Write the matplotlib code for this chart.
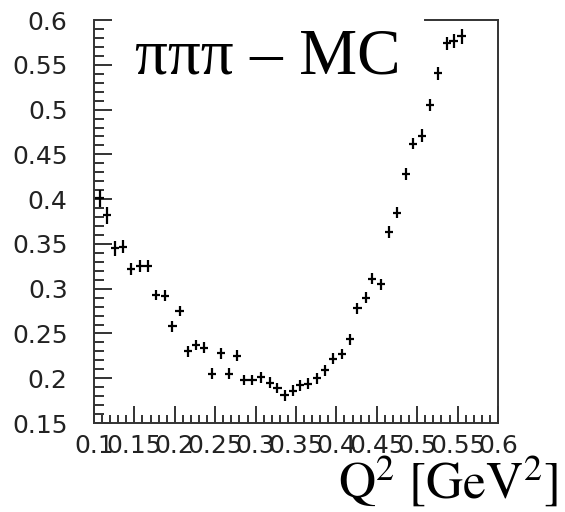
import numpy as np
import matplotlib.pyplot as plt
from matplotlib.ticker import MultipleLocator

# Q^2 bins and the MC points
q2 = [0.107, 0.116, 0.126, 0.136, 0.146, 0.157, 0.167, 0.177, 0.188, 0.197,
      0.206, 0.216, 0.226, 0.236, 0.246, 0.257, 0.267, 0.277, 0.286, 0.296,
      0.307, 0.318, 0.327, 0.336, 0.346, 0.355, 0.365, 0.376, 0.386, 0.396,
      0.407, 0.417, 0.426, 0.437, 0.444, 0.455, 0.465, 0.475, 0.486, 0.495,
      0.506, 0.516, 0.526, 0.537, 0.545, 0.555]
val = [0.401, 0.382, 0.345, 0.347, 0.322, 0.325, 0.325, 0.293, 0.292, 0.258,
       0.275, 0.230, 0.237, 0.234, 0.205, 0.228, 0.205, 0.225, 0.198, 0.198,
       0.201, 0.195, 0.189, 0.181, 0.186, 0.192, 0.194, 0.200, 0.209, 0.222,
       0.227, 0.2435, 0.278, 0.290, 0.311, 0.305, 0.363, 0.385, 0.428, 0.462,
       0.471, 0.505, 0.5405, 0.574, 0.577, 0.582]
err = [0.0095, 0.0095, 0.0085, 0.0075, 0.007, 0.0065, 0.0065, 0.006, 0.006, 0.006,
       0.006, 0.006, 0.006, 0.006, 0.006, 0.006, 0.006, 0.006, 0.006, 0.006,
       0.006, 0.006, 0.006, 0.006, 0.006, 0.006, 0.006, 0.006, 0.006, 0.006,
       0.006, 0.006, 0.006, 0.006, 0.006, 0.006, 0.0065, 0.0065, 0.0065, 0.0065,
       0.007, 0.007, 0.0075, 0.0075, 0.008, 0.0085]
half_bin = 0.0052

xticks = np.arange(0.1, 0.601, 0.05)
yticks = np.arange(0.15, 0.601, 0.05)

fig = plt.figure(figsize=(5.65, 5.12), dpi=100)
ax = fig.add_axes([0.1664, 0.1738, 0.715, 0.787])

ax.errorbar(q2, val, xerr=half_bin, yerr=err, fmt='none',
            ecolor='black', elinewidth=1.6, capsize=0)

ax.set_xlim(0.1, 0.6)
ax.set_ylim(0.15, 0.6)
ax.set_xticks(xticks)
ax.set_yticks(yticks)
ax.set_xticklabels([f"{t:g}" for t in xticks])
ax.set_yticklabels([f"{t:g}" for t in yticks])
ax.xaxis.set_minor_locator(MultipleLocator(0.01))
ax.yaxis.set_minor_locator(MultipleLocator(0.01))

ax.tick_params(which='both', direction='in', width=1.4, color='#333333',
               top=False, right=False, labelsize=18, labelcolor='#222222')
ax.tick_params(axis='y', which='major', length=13, pad=19)
ax.tick_params(axis='y', which='minor', length=7)
ax.tick_params(axis='x', which='major', length=12.5, pad=8)
ax.tick_params(axis='x', which='minor', length=6)

for s in ax.spines.values():
    s.set_linewidth(1.4)
    s.set_color('#333333')
# the title box hides most of the top frame
ax.spines['top'].set_bounds(0.51, 0.6)

fig.text(0.239, 0.857, "πππ – MC", family='Liberation Serif', fontsize=47,
         ha='left', va='baseline')

plt.rcParams['mathtext.fontset'] = 'stix'
fig.text(0.988, 0.027, r"$\mathrm{Q^2\ [GeV^2]}$", fontsize=37,
         ha='right', va='baseline')

fig.savefig("out.png", dpi=100)
